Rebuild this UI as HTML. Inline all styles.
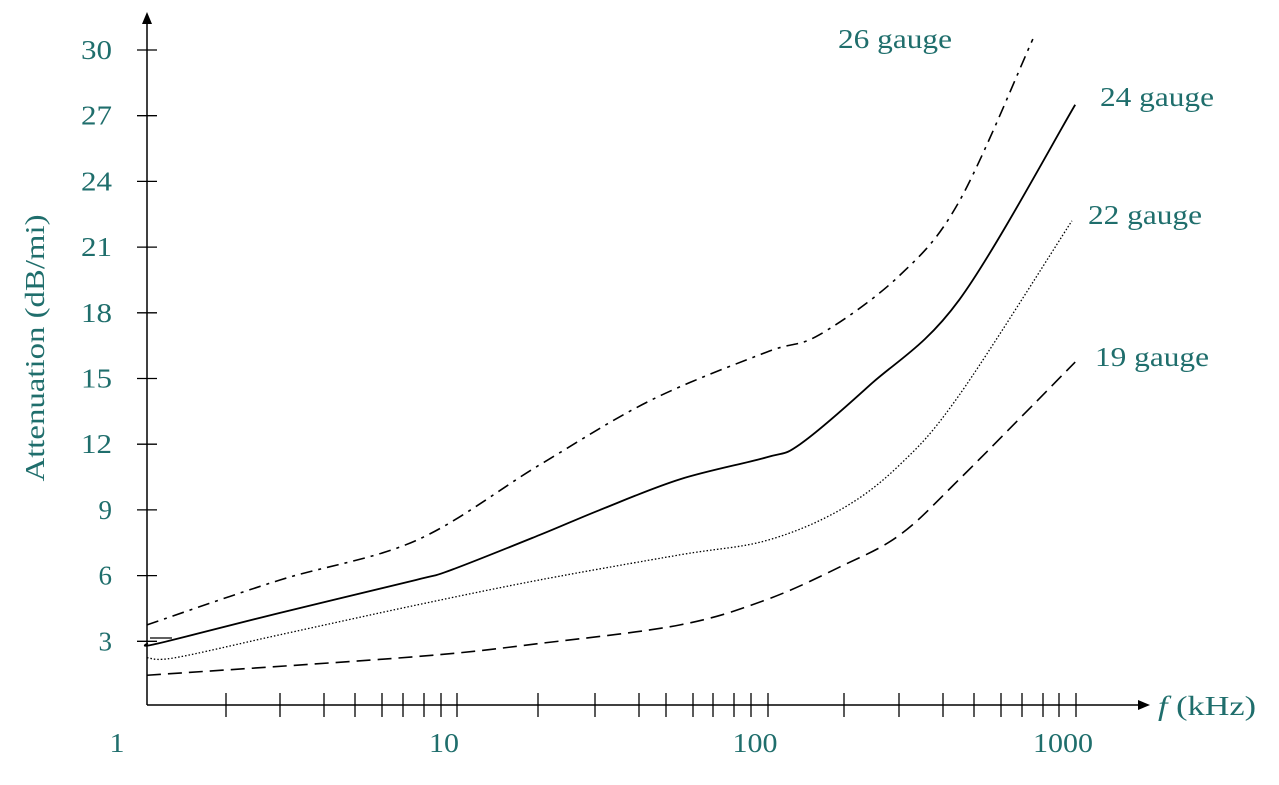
<!DOCTYPE html>
<html><head><meta charset="utf-8"><style>
body{margin:0;background:#fff}
svg text{font-family:"Liberation Serif",serif;fill:#1f6e6c}
</style></head><body>
<svg id="chart" width="1279" height="780" viewBox="0 0 1279 780" xmlns="http://www.w3.org/2000/svg">
<g id="axes"></g>
<g id="series"></g>
<g id="labels"></g>
</svg>
<script>
const yTicks=[3,6,9,12,15,18,21,24,27,30];
const xLabels=[1,10,100,1000];
const xMinor=[2,3,4,5,6,7,8,9,10,20,30,40,50,60,70,80,90,100,200,300,400,500,600,700,800,900,1000];
const g26f=[1,3,7.6,20.2,44,99,160,301,450,750];
const g26v=[3.75,5.8,7.6,11.05,14.0,16.2,17.0,19.7,23.1,30.5];
const g24f=[1,1.1,3,7.6,9.6,20.2,31,55,99,134,242,450,995];
const g24v=[2.9,2.9,4.3,5.8,6.25,7.85,9.0,10.4,11.4,12.0,14.7,18.6,27.5];
const g22f=[1,1.28,3,7.6,20.2,55,99,193,301,450,975];
const g22v=[2.25,2.25,3.3,4.65,5.8,6.95,7.6,9.0,11.05,14.25,22.2];
const g19f=[1,7.6,20.2,55,99,193,301,450,995];
const g19v=[1.45,2.3,2.9,3.75,4.9,6.4,7.85,10.4,15.75];
const seriesNames=["26 gauge","24 gauge","22 gauge","19 gauge"];

// hand-drawn axis: scale anchors (frequency -> pixel), interpolated in log space
const axF=[1,2,3,4,5,6,7,8,9,10,20,30,40,50,60,70,80,90,100,200,300,400,500,600,700,800,900,1000];
const axP=[147,226,280,324,355,382,403,424,441,457,538,595,639,666,693,713,734,751,768,844,899,943,974,1001,1022,1043,1059,1076];

const NS="http://www.w3.org/2000/svg";
function X(f){
 for(let i=0;i<axF.length-1;i++){
  if(f<=axF[i+1]||i===axF.length-2){
   const t=(Math.log(f)-Math.log(axF[i]))/(Math.log(axF[i+1])-Math.log(axF[i]));
   return axP[i]+t*(axP[i+1]-axP[i]);
  }
 }
}
const Y=v=>707-v*21.9;
function mk(tag,attrs,parent){const e=document.createElementNS(NS,tag);for(const k in attrs)e.setAttribute(k,attrs[k]);parent.appendChild(e);return e;}
const axes=document.getElementById('axes'),ser=document.getElementById('series'),lab=document.getElementById('labels');

let e=mk('line',{x1:147,y1:705,x2:1140,y2:705,stroke:'#000','stroke-width':1.5},axes);


e=mk('polygon',{points:'1150,705 1138,700 1138,710',fill:'#000'},axes);


e=mk('line',{x1:147,y1:705,x2:147,y2:22,stroke:'#000','stroke-width':1.5},axes);


e=mk('polygon',{points:'147,12 142,24 152,24',fill:'#000'},axes);



yTicks.forEach(v=>{
 let t=mk('line',{x1:137,y1:Y(v),x2:157,y2:Y(v),stroke:'#000','stroke-width':1.3},axes);
 
 
 let l=mk('text',{x:112,y:Y(v)+9,'text-anchor':'end','font-size':27},axes);
 l.textContent=v;
 if(String(v).length===2){l.setAttribute('textLength',31);l.setAttribute('lengthAdjust','spacingAndGlyphs');}
 
 
});
xMinor.forEach(f=>{
 let t=mk('line',{x1:X(f),y1:693,x2:X(f),y2:717,stroke:'#000','stroke-width':1.3},axes);
 
 
});
xLabels.forEach(f=>{
 const w=String(f).length*15;
 const cx=f===1?117:X(f)-13;
 let l=mk('text',{x:cx-w/2,y:752,'font-size':27,textLength:w,lengthAdjust:'spacingAndGlyphs'},axes);
 l.textContent=f;
 
 
});
let xt=mk('text',{x:1158,y:715,'font-size':27,textLength:98,lengthAdjust:'spacingAndGlyphs'},lab);
xt.innerHTML='<tspan font-style="italic">f</tspan> (kHz)';


let yt=mk('text',{x:0,y:0,'font-size':27,'text-anchor':'middle',textLength:267,lengthAdjust:'spacingAndGlyphs',transform:'translate(44,348) rotate(-90)'},lab);
yt.textContent='Attenuation (dB/mi)';



function path(fs,vs){
 const p=fs.map((f,i)=>[X(f),Y(vs[i])]);
 let d='M'+p[0][0]+','+p[0][1];
 for(let i=0;i<p.length-1;i++){
  const p0=p[Math.max(0,i-1)],p1=p[i],p2=p[i+1],p3=p[Math.min(p.length-1,i+2)];
  const c1=[p1[0]+(p2[0]-p0[0])/6,p1[1]+(p2[1]-p0[1])/6];
  const c2=[p2[0]-(p3[0]-p1[0])/6,p2[1]-(p3[1]-p1[1])/6];
  d+=' C'+c1+' '+c2+' '+p2;
 }
 return d;
}
const defs=[
 [g26f,g26v,'12 6 3 6',1.6,'curve-26-gauge'],
 [g24f,g24v,'none',1.8,'curve-24-gauge'],
 [g22f,g22v,'1.5 2',1.3,'curve-22-gauge'],
 [g19f,g19v,'14 7',1.6,'curve-19-gauge']];
defs.forEach(s=>{
 let p=mk('path',{d:path(s[0],s[1]),fill:'none',stroke:'#000','stroke-width':s[3]},ser);
 if(s[2]!=='none')p.setAttribute('stroke-dasharray',s[2]);
 
 
});
e=mk('line',{x1:150,y1:638,x2:172,y2:638,stroke:'#000','stroke-width':1.3},ser);


const lpos=[[838,48],[1100,106],[1088,224],[1095,366]];
seriesNames.forEach((n,i)=>{
 let l=mk('text',{x:lpos[i][0],y:lpos[i][1],'font-size':27,textLength:114,lengthAdjust:'spacingAndGlyphs'},lab);
 l.textContent=n;
 
 
});
</script>
</body></html>
